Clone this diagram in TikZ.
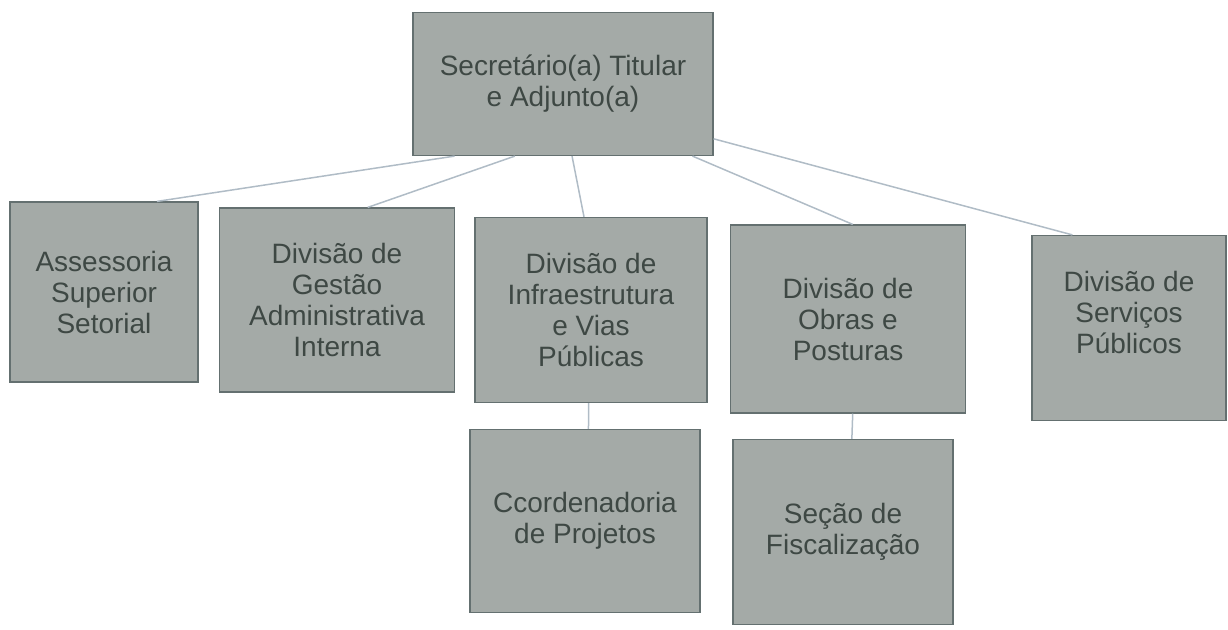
\documentclass[tikz,border=0pt]{standalone}
\usepackage{fontspec}
\setmainfont{Liberation Sans}
\usetikzlibrary{calc}
\definecolor{boxfill}{RGB}{164,170,167}
\definecolor{boxline}{RGB}{100,112,112}
\definecolor{boxtext}{RGB}{62,72,68}
\definecolor{linkcol}{RGB}{176,188,198}
\begin{document}
\begin{tikzpicture}[x=1pt,y=-1pt,
  box/.style={draw=boxline, line width=1.2pt, fill=boxfill, text=boxtext, align=center,
    inner sep=0pt, font=\fontsize{28}{31}\selectfont},
  link/.style={draw=linkcol, line width=1.5pt}]
\useasboundingbox (0,0) rectangle (1228,629);

\node[box, minimum width=300, minimum height=143] (top) at (563,84) {Secretário(a) Titular\\e Adjunto(a)};
\node[box, minimum width=188, minimum height=180] (ass) at (104,292) {Assessoria\\Superior\\Setorial};
\node[box, minimum width=235, minimum height=184] (ges) at (337,300) {Divisão de\\Gestão\\Administrativa\\Interna};
\node[box, minimum width=232, minimum height=185] (inf) at (591,310) {Divisão de\\Infraestrutura\\e Vias\\Públicas};
\node[box, minimum width=235, minimum height=188] (obr) at (848,319) {Divisão de\\Obras e\\Posturas};
\node[box, minimum width=230, minimum height=183] (coo) at (585,521) {Ccordenadoria\\de Projetos};
\node[box, minimum width=220, minimum height=185] (sec) at (843,532) {Seção de\\Fiscalização};
\node[box, minimum width=194, minimum height=185] (ser) at (1129,328) {Divisão de\\Serviços\\Públicos\\\mbox{}};

\draw[link] ($(top.south west)!0.14!(top.south east)$) -- ($(ass.north west)!0.78!(ass.north east)$);
\draw[link] ($(top.south west)!0.34!(top.south east)$) -- ($(ges.north west)!0.63!(ges.north east)$);
\draw[link] ($(top.south west)!0.53!(top.south east)$) -- ($(inf.north west)!0.47!(inf.north east)$);
\draw[link] ($(top.south west)!0.93!(top.south east)$) -- ($(obr.north west)!0.52!(obr.north east)$);
\draw[link] ($(top.north east)!0.88!(top.south east)$) -- ($(ser.north west)!0.21!(ser.north east)$);
\draw[link] ($(inf.south west)!0.49!(inf.south east)$) -- ($(coo.north west)!0.515!(coo.north east)$);
\draw[link] ($(obr.south west)!0.52!(obr.south east)$) -- ($(sec.north west)!0.54!(sec.north east)$);
\end{tikzpicture}
\end{document}
